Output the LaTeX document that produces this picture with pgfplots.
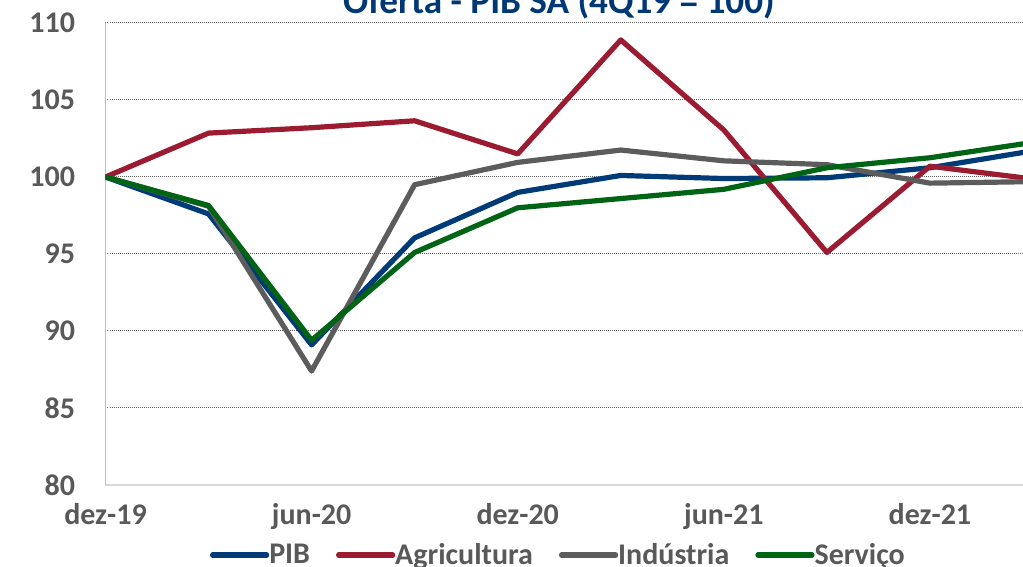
\documentclass[border=0pt]{standalone}
\usepackage{pgfplots}
\pgfplotsset{compat=1.18}
\usepackage{fontspec}
\setmainfont{Carlito}
\definecolor{cPIB}{RGB}{0,59,120}
\definecolor{cAgr}{RGB}{155,27,48}
\definecolor{cInd}{RGB}{92,92,92}
\definecolor{cSer}{RGB}{0,100,20}
\definecolor{txt}{RGB}{89,89,89}
\definecolor{ttl}{RGB}{0,56,118}
\begin{document}
\begin{tikzpicture}
\useasboundingbox (0,0) rectangle (511.5pt,283.5pt);
\clip (0,0) rectangle (511.5pt,283.5pt);
\begin{axis}[
  at={(52.75pt,41pt)}, anchor=south west,
  scale only axis,
  width=463.75pt, height=231pt,
  xmin=0, xmax=9, ymin=80, ymax=110,
  xtick={0,2,4,6,8},
  xticklabels={dez-19,jun-20,dez-20,jun-21,dez-21},
  ytick={80,85,90,95,100,105,110},
  major tick length=0pt,
  /pgf/number format/assume math mode=true,
  ticklabel style={font=\fontsize{15}{18}\selectfont\bfseries, text=txt},
  yticklabel style={anchor=east, inner sep=0pt, xshift=-15pt},
  xticklabel style={anchor=north, inner sep=0pt, yshift=-9pt},
  ymajorgrids=true,
  major grid style={draw=black!60, line width=0.5pt, dash pattern=on 0.5pt off 0.5pt},
  axis x line*=bottom, axis y line*=left,
  x axis line style={draw=black!15, line width=0.8pt, -},
  y axis line style={draw=black!25, line width=0.5pt, -},
  every axis plot/.append style={line width=2.6pt, line join=round, line cap=round},
  legend columns=4,
  legend style={at={(0.4873,-0.1515)}, anchor=center, draw=none, fill=none,
    font=\fontsize{15}{18}\selectfont\bfseries, text=txt,
    inner sep=0pt, column sep=0pt, nodes={inner sep=0pt},
    /tikz/every even column/.append style={column sep=13pt}},
  legend image code/.code={\draw[#1] (0pt,0pt) -- (27pt,0pt);},
]
\addplot[cPIB] coordinates {(0,100) (1,97.6) (2,89.1) (3,96.05) (4,99.0) (5,100.1) (6,99.9) (7,99.95) (8,100.6) (9,101.7)};
\addlegendentry{PIB}
\addplot[cAgr] coordinates {(0,100) (1,102.85) (2,103.2) (3,103.65) (4,101.5) (5,108.9) (6,103.05) (7,95.1) (8,100.7) (9,99.87)};
\addlegendentry{Agricultura}
\addplot[cInd] coordinates {(0,100) (1,98.1) (2,87.4) (3,99.5) (4,100.95) (5,101.75) (6,101.05) (7,100.8) (8,99.6) (9,99.7)};
\addlegendentry{Indústria}
\addplot[cSer] coordinates {(0,100) (1,98.15) (2,89.4) (3,95.1) (4,98.0) (5,98.6) (6,99.2) (7,100.6) (8,101.25) (9,102.25)};
\addlegendentry{Serviço}
\end{axis}
\node[anchor=base, font=\fontsize{18.6}{22}\selectfont\bfseries, text=ttl, inner sep=0pt] at (279.5pt,276.5pt) {Oferta - PIB SA (4Q19 = 100)};
\end{tikzpicture}
\end{document}
